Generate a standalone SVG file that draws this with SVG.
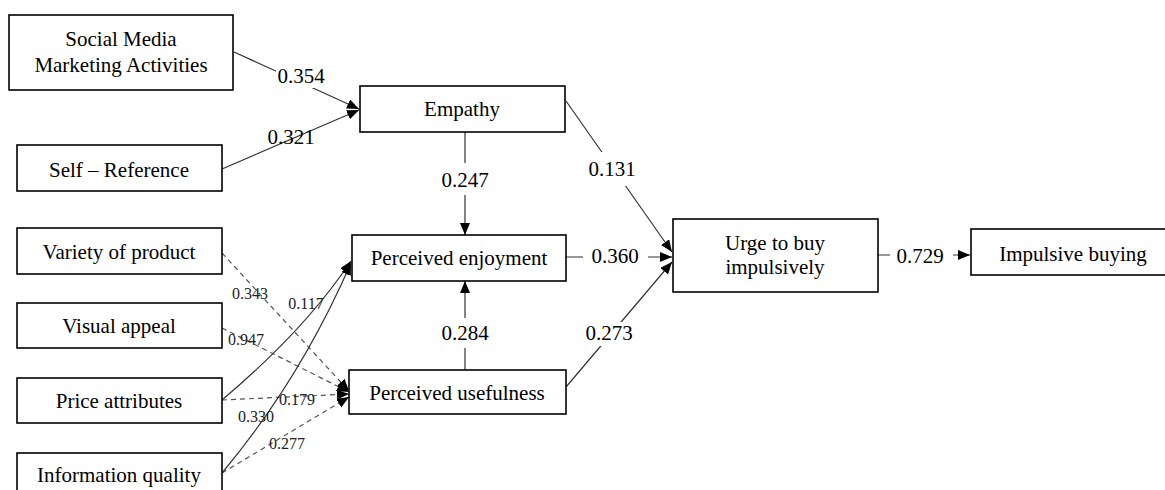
<svg xmlns="http://www.w3.org/2000/svg" width="1165" height="490" viewBox="0 0 1165 490">
<style>
.box{fill:#fff;stroke:#000;stroke-width:1.6}
.t{font-family:"Liberation Serif","Times New Roman",serif;font-size:21px;fill:#000;text-anchor:middle}
.lb{font-family:"Liberation Serif","Times New Roman",serif;font-size:21px;fill:#000;text-anchor:middle}
.sl{font-family:"Liberation Serif","Times New Roman",serif;font-size:16px;fill:#222;text-anchor:middle}
.sol{fill:none;stroke:#333;stroke-width:1.2}
.dash{fill:none;stroke:#555;stroke-width:1.2;stroke-dasharray:5,4}
.bg{fill:#fff}
</style>
<defs>
<marker id="ah" markerUnits="userSpaceOnUse" markerWidth="13" markerHeight="11" refX="12" refY="5" orient="auto" viewBox="0 0 13 11">
<path d="M0,0 L12,5 L0,10 z" fill="#000"/>
</marker>
</defs>
<g id="connectors">
<line class="sol" x1="234" y1="52" x2="359" y2="109" marker-end="url(#ah)"/>
<line class="sol" x1="222" y1="169" x2="359" y2="110" marker-end="url(#ah)"/>
<line class="sol" x1="465" y1="132" x2="465" y2="235" marker-end="url(#ah)"/>
<line class="sol" x1="566" y1="101" x2="672" y2="252" marker-end="url(#ah)"/>
<line class="sol" x1="566" y1="257" x2="672" y2="257" marker-end="url(#ah)"/>
<line class="sol" x1="566" y1="387" x2="672" y2="262" marker-end="url(#ah)"/>
<line class="sol" x1="465" y1="370" x2="465" y2="281" marker-end="url(#ah)"/>
<line class="sol" x1="878" y1="255" x2="970" y2="255" marker-end="url(#ah)"/>
<line class="dash" x1="222" y1="253" x2="349" y2="391" marker-end="url(#ah)"/>
<line class="dash" x1="222" y1="328" x2="349" y2="392" marker-end="url(#ah)"/>
<line class="dash" x1="222" y1="400" x2="349" y2="394" marker-end="url(#ah)"/>
<line class="dash" x1="222" y1="473" x2="349" y2="397" marker-end="url(#ah)"/>
<path class="sol" d="M222,400 Q305,330 351,261" marker-end="url(#ah)"/>
<path class="sol" d="M222,473 Q300,380 351,263" marker-end="url(#ah)"/>
</g>
<g id="labels">
<rect class="bg" x="276" y="66" width="50" height="22"/>
<text class="lb" x="301" y="83">0.354</text>
<text class="lb" x="291" y="144">0.321</text>
<rect class="bg" x="440" y="163" width="50" height="32"/>
<text class="lb" x="465" y="187">0.247</text>
<rect class="bg" x="586" y="152" width="54" height="34"/>
<text class="lb" x="612" y="176">0.131</text>
<rect class="bg" x="583" y="245" width="65" height="22"/>
<text class="lb" x="615" y="263">0.360</text>
<rect class="bg" x="440" y="318" width="50" height="30"/>
<text class="lb" x="465" y="340">0.284</text>
<rect class="bg" x="584" y="322" width="50" height="24"/>
<text class="lb" x="609" y="340">0.273</text>
<rect class="bg" x="890" y="243" width="63" height="22"/>
<text class="lb" x="920" y="263">0.729</text>
<text class="sl" x="250" y="299">0.343</text>
<text class="sl" x="246" y="345">0.947</text>
<text class="sl" x="306" y="309">0.117</text>
<text class="sl" x="297" y="405">0.179</text>
<text class="sl" x="256" y="422">0.330</text>
<text class="sl" x="287" y="449">0.277</text>
</g>
<g id="n-smma"><rect class="box" x="9" y="15" width="224" height="75"/><text class="t" x="121" y="46">Social Media</text><text class="t" x="121" y="72">Marketing Activities</text></g>
<g id="n-self"><rect class="box" x="17" y="145" width="205" height="46"/><text class="t" x="119" y="177">Self – Reference</text></g>
<g id="n-empathy"><rect class="box" x="360" y="86" width="205" height="46"/><text class="t" x="462" y="116">Empathy</text></g>
<g id="n-pe"><rect class="box" x="352" y="235" width="214" height="46"/><text class="t" x="459" y="265">Perceived enjoyment</text></g>
<g id="n-pu"><rect class="box" x="349" y="370" width="217" height="44"/><text class="t" x="457" y="400">Perceived usefulness</text></g>
<g id="n-urge"><rect class="box" x="673" y="219" width="205" height="73"/><text class="t" x="775" y="250">Urge to buy</text><text class="t" x="775" y="274">impulsively</text></g>
<g id="n-ib"><rect class="box" x="971" y="229" width="200" height="46"/><text class="t" x="1073" y="261">Impulsive buying</text></g>
<g id="n-variety"><rect class="box" x="17" y="228" width="205" height="46"/><text class="t" x="119" y="259">Variety of product</text></g>
<g id="n-visual"><rect class="box" x="17" y="303" width="205" height="45"/><text class="t" x="119" y="333">Visual appeal</text></g>
<g id="n-price"><rect class="box" x="17" y="378" width="205" height="45"/><text class="t" x="119" y="408">Price attributes</text></g>
<g id="n-info"><rect class="box" x="17" y="453" width="205" height="50"/><text class="t" x="119" y="482">Information quality</text></g>
</svg>
